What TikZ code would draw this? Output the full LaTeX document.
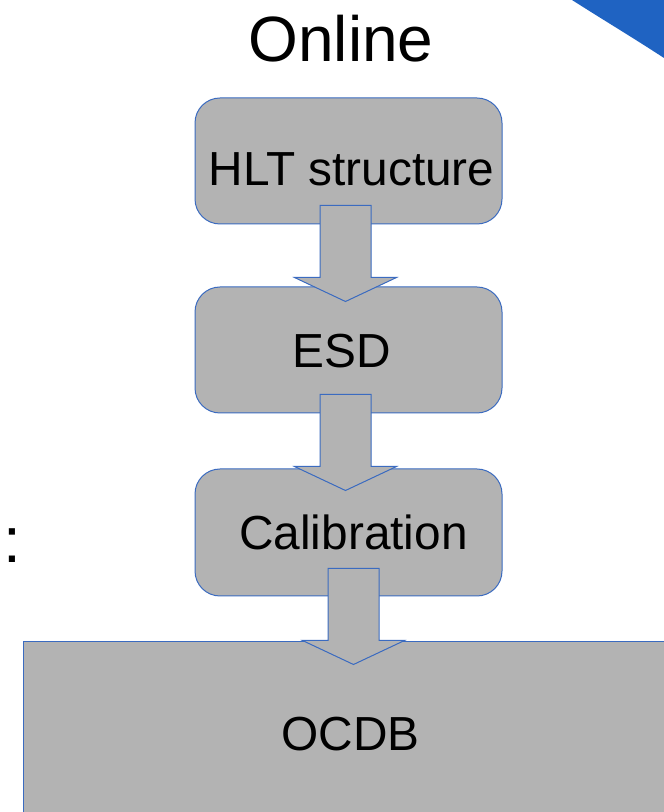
\documentclass[tikz,border=0pt]{standalone}
\usepackage{fontspec}
\setmainfont{Liberation Sans}
\usetikzlibrary{calc}
\definecolor{boxfill}{HTML}{B3B3B3}
\definecolor{boxline}{HTML}{3B6BC0}
\definecolor{swoosh}{HTML}{1F63C2}

% Block arrow from the bottom of one box into the top of the next:
% #1 source, #2 target, #3 x offset, #4 inset into source, #5 depth into target
\newcommand\stagearrow[5]{%
  \draw[barrow] let \p1=($(#1.south)+(#3,#4)$), \p2=($(#2.north)+(0,-#5)$) in
    (\x1-25.5pt,\y1) -- (\x1+25.5pt,\y1) -- (\x1+25.5pt,\y2+24pt)
    -- (\x1+51pt,\y2+24pt) -- (\x1,\y2) -- (\x1-51pt,\y2+24pt)
    -- (\x1-25.5pt,\y2+24pt) -- cycle;}

\begin{document}
\begin{tikzpicture}[x=1pt,y=1pt,
  stage/.style={draw=boxline, line width=1pt, fill=boxfill, rounded corners=25pt,
    minimum width=307pt, minimum height=126pt, inner sep=0pt},
  db/.style={draw=boxline, line width=1pt, fill=boxfill,
    minimum width=720pt, minimum height=250pt, inner sep=0pt},
  lbl/.style={font=\fontsize{47.8}{52}\selectfont, text height=34pt, text depth=0pt, inner sep=0pt},
  barrow/.style={draw=boxline, line width=1pt, fill=boxfill, line join=miter}]

\useasboundingbox (0,0) rectangle (664,812);
\clip (0,0) rectangle (664,812);
\fill[white] (0,0) rectangle (664,812);

% corner decoration
\fill[swoosh] (572,812) .. controls (605,791) and (635,773) .. (664,754) -- (664,812) -- cycle;

% heading
\node[font=\fontsize{64}{68}\selectfont, text height=46pt, text depth=0pt, inner sep=0pt]
  (title) at (341,773.5) {Online};

% colon at the left edge
\node[font=\fontsize{64}{68}\selectfont, anchor=base west, inner sep=0pt] (cut) at (3.1,249) {:};

% boxes
\node[stage] (hlt) at (348.5,651) {};
\node[stage] (esd) at (348.5,462) {};
\node[stage, minimum height=127pt] (cal) at (348.5,279.5) {};
\node[db] (ocdb) at (383,45) {};

% arrows
\stagearrow{hlt}{esd}{-3}{19}{15}
\stagearrow{esd}{cal}{-3}{19}{22}
\stagearrow{cal}{ocdb}{5}{28}{23}

% labels
\node[lbl] (hltt) at ($(hlt)+(3,-7.5)$) {HLT structure};
\node[lbl] (esdt) at ($(esd)+(-6.5,-1)$) {ESD};
\node[lbl] (calt) at ($(cal)+(5,-0.5)$) {Calibration};
\node[lbl] (ocdbt) at ($(ocdb)+(-32.5,33)$) {OCDB};
\end{tikzpicture}
\end{document}
